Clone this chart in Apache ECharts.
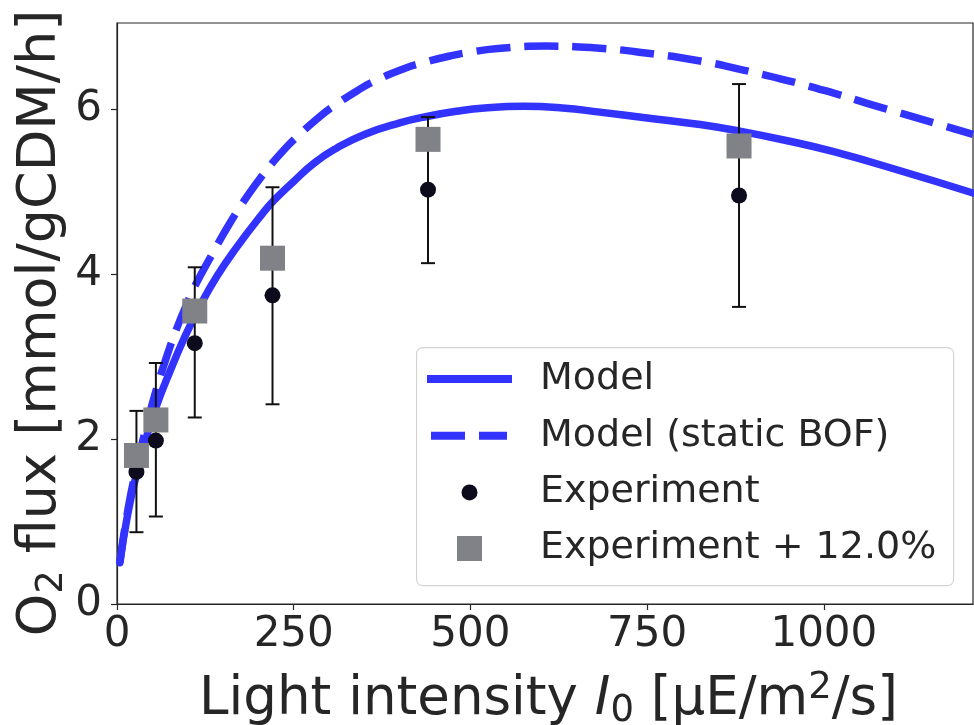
<!DOCTYPE html>
<html><head><meta charset="utf-8">
<script src="https://cdn.jsdelivr.net/npm/echarts@6/dist/echarts.min.js"></script>
<style>html,body{margin:0;padding:0;background:#fff}#c{width:974px;height:725px}</style>
</head><body><div id="c"></div>
<script>
// Model curve
const modelX = [4, 15, 27, 40, 55, 75, 95, 118, 142, 170, 203, 222, 250, 280, 310, 350, 400, 440, 480, 520, 575, 630, 683, 750, 825, 881, 950, 1014, 1108, 1211];
const modelY = [0.50, 1.08, 1.55, 1.97, 2.38, 2.82, 3.22, 3.62, 3.98, 4.33, 4.70, 4.89, 5.12, 5.35, 5.52, 5.69, 5.83, 5.91, 5.97, 6.01, 6.03, 6.01, 5.96, 5.89, 5.81, 5.73, 5.61, 5.48, 5.25, 4.98];
// Model (static BOF) curve
const staticX = [4, 15, 27, 40, 55, 70, 85, 100, 110, 136, 160, 185, 210, 237, 252, 286, 306, 342, 363, 404, 429, 471, 495, 539, 608, 674, 745, 825, 886, 950, 1014, 1060, 1108, 1160, 1211];
const staticY = [0.50, 1.12, 1.63, 2.10, 2.58, 2.99, 3.35, 3.66, 3.85, 4.26, 4.62, 4.95, 5.24, 5.51, 5.64, 5.90, 6.03, 6.23, 6.33, 6.48, 6.55, 6.64, 6.68, 6.73, 6.76, 6.74, 6.68, 6.58, 6.47, 6.34, 6.19, 6.07, 5.95, 5.82, 5.69];
// Experiment
const expX = [27.5, 55, 110, 220, 440, 880];
const expY = [1.60, 1.98, 3.16, 3.74, 5.02, 4.95];
const expLow = [0.87, 1.06, 2.26, 2.42, 4.13, 3.60];
const expHigh = [2.34, 2.92, 4.08, 5.05, 5.90, 6.30];
// Experiment + 12.0%
const expPlusY = [1.80, 2.23, 3.55, 4.19, 5.63, 5.55];
// Ticks
const xTicks = [0, 250, 500, 750, 1000];
const yTicks = [0, 2, 4, 6];

const FONT = 'DejaVu Sans';
const TXT = '#262626';
const BLUE = '#3333ff';

const chart = echarts.init(document.getElementById('c'), null, {renderer: 'canvas'});
chart.setOption({
  animation: false,
  backgroundColor: '#fff',
  grid: {left: 117, top: 23, right: 1, bottom: 121, outerBoundsMode: 'none', containLabel: false, show: true, borderColor: '#262626', borderWidth: 1.2, backgroundColor: 'transparent'},
  xAxis: {
    type: 'value', min: 0, max: 1211,
    axisLine: {show: true, onZero: false, lineStyle: {color: '#262626', width: 1.2}},
    axisTick: {show: true, length: 6, lineStyle: {color: '#262626', width: 1.2}, customValues: xTicks},
    axisLabel: {fontFamily: FONT, fontSize: 42, color: TXT, margin: 10, customValues: xTicks, formatter: v => String(v)},
    splitLine: {show: false},
    name: '{a0|Light intensity }{i|I}{sub|0}{a| [μE/m}{sup|2}{a|/s]}',
    nameLocation: 'middle', nameGap: 66, nameMoveOverlap: false,
    nameTextStyle: {
      fontFamily: FONT, fontSize: 53, color: TXT,
      rich: {
        a0: {fontFamily: FONT, fontSize: 53, color: TXT, lineHeight: 60, padding: [0, 0, 0, 7]},
        a: {fontFamily: FONT, fontSize: 53, color: TXT, lineHeight: 60},
        i: {fontFamily: FONT, fontSize: 53, color: TXT, lineHeight: 60, fontStyle: 'italic'},
        sub: {fontFamily: FONT, fontSize: 37, color: TXT, lineHeight: 35, verticalAlign: 'bottom'},
        sup: {fontFamily: FONT, fontSize: 37, color: TXT, lineHeight: 29, verticalAlign: 'top'}
      }
    }
  },
  yAxis: {
    type: 'value', min: 0, max: 7.04,
    axisLine: {show: true, onZero: false, lineStyle: {color: '#262626', width: 1.2}},
    axisTick: {show: true, length: 6, lineStyle: {color: '#262626', width: 1.2}, customValues: yTicks},
    axisLabel: {fontFamily: FONT, fontSize: 42, color: TXT, margin: 15, customValues: yTicks, formatter: v => String(v)},
    splitLine: {show: false},
    name: '{a|O}{sub|2}{b| flux [mmol/gCDM/h]}',
    nameLocation: 'middle', nameGap: 46, nameMoveOverlap: false,
    nameTextStyle: {
      fontFamily: FONT, fontSize: 54, color: TXT,
      rich: {
        a: {fontFamily: FONT, fontSize: 54, color: TXT, lineHeight: 60},
        b: {fontFamily: FONT, fontSize: 54, color: TXT, lineHeight: 60, padding: [0, 19, 0, 0]},
        sub: {fontFamily: FONT, fontSize: 37, color: TXT, lineHeight: 29, verticalAlign: 'bottom'}
      }
    }
  },
  legend: [
    {
      orient: 'vertical', left: 427, top: 360, padding: 0, itemGap: 18.7,
      itemWidth: 85, itemHeight: 16, selectedMode: false,
      textStyle: {fontFamily: FONT, fontSize: 38, color: TXT, lineHeight: 38, padding: [0, 0, 0, 23]},
      itemStyle: {borderWidth: 0},
      data: [
        {name: 'Model', icon: 'path://M0,0H85V8H0Z', itemStyle: {color: BLUE, borderWidth: 0}},
        {name: 'Model (static BOF)', icon: 'path://M0,0H0.01V8H0Z M4,0H38V8H4Z M52,0H80V8H52Z M84.99,0H85V8H84.99Z', itemStyle: {color: BLUE, borderWidth: 0}},
        {name: 'Experiment', icon: 'circle'}
      ]
    },
    {
      orient: 'vertical', left: 457, top: 529.5, padding: 0,
      itemWidth: 85, itemHeight: 25, selectedMode: false,
      textStyle: {fontFamily: FONT, fontSize: 38, color: TXT, lineHeight: 38, padding: [0, 0, 0, 23]},
      itemStyle: {borderWidth: 0},
      data: [{name: 'Experiment + 12.0%', icon: 'path://M0,0H10V10H0Z'}]
    }
  ],
  graphic: [{
    type: 'rect', left: 416, top: 347, z: 0,
    shape: {width: 537, height: 238, r: 6},
    style: {fill: 'rgba(255,255,255,0.8)', stroke: '#d4d4d4', lineWidth: 1.2}
  }],
  series: [
    {
      name: 'Model', type: 'line', showSymbol: false, symbol: 'none', smooth: 0.5, z: 2,
      data: modelX.map((x, i) => [x, modelY[i]]),
      lineStyle: {color: BLUE, width: 7.5, cap: 'round', join: 'round'}, itemStyle: {color: BLUE}
    },
    {
      name: 'Model (static BOF)', type: 'line', showSymbol: false, symbol: 'none', smooth: 0.5, z: 2,
      data: staticX.map((x, i) => [x, staticY[i]]),
      lineStyle: {color: BLUE, width: 7.5, type: [34, 14], cap: 'butt', join: 'round'}, itemStyle: {color: BLUE}
    },
    {
      name: 'errbars', type: 'custom', z: 3,
      data: expX.map((x, i) => [x, expLow[i], expHigh[i]]),
      renderItem: function (params, api) {
        const x = api.value(0);
        const p1 = api.coord([x, api.value(1)]);
        const p2 = api.coord([x, api.value(2)]);
        const cw = 7;
        const st = {stroke: '#111', lineWidth: 2};
        return {type: 'group', children: [
          {type: 'line', shape: {x1: p1[0], y1: p1[1], x2: p2[0], y2: p2[1]}, style: st},
          {type: 'line', shape: {x1: p1[0] - cw, y1: p1[1], x2: p1[0] + cw, y2: p1[1]}, style: st},
          {type: 'line', shape: {x1: p2[0] - cw, y1: p2[1], x2: p2[0] + cw, y2: p2[1]}, style: st}
        ]};
      }
    },
    {
      name: 'Experiment', type: 'scatter', symbol: 'circle', symbolSize: 16, z: 4,
      data: expX.map((x, i) => [x, expY[i]]),
      itemStyle: {color: '#0c0c1c', opacity: 1}
    },
    {
      name: 'Experiment + 12.0%', type: 'scatter', symbol: 'rect', symbolSize: 25, z: 5,
      data: expX.map((x, i) => [x, expPlusY[i]]),
      itemStyle: {color: '#818188', opacity: 1}
    }
  ]
});
</script>
</body></html>
